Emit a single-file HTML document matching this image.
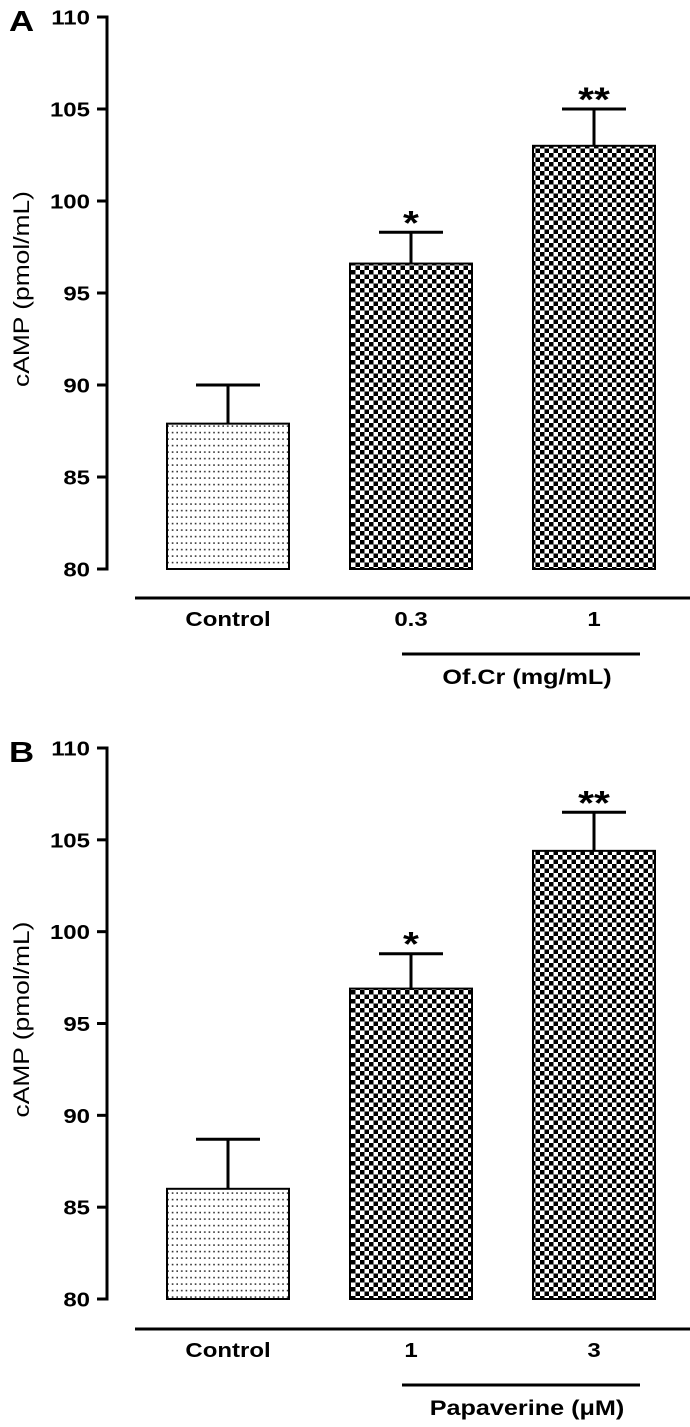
<!DOCTYPE html>
<html><head><meta charset="utf-8">
<style>
html,body{margin:0;padding:0;background:#fff;}
svg{display:block;font-family:"Liberation Sans",Arial,sans-serif;}
</style></head>
<body>
<svg id="chart" width="690" height="1427" viewBox="0 0 690 1427" xmlns="http://www.w3.org/2000/svg">
<defs>
<pattern id="dots" width="4.6" height="6.5" patternUnits="userSpaceOnUse">
<rect width="4.6" height="6.5" fill="#fff"/>
<rect x="1.6" y="2.8" width="1.6" height="1.6" fill="#333"/>
</pattern>
<pattern id="checker" width="9" height="9" patternUnits="userSpaceOnUse">
<rect width="9" height="9" fill="#fff"/>
<rect width="4.5" height="4.5" fill="#000"/>
<rect x="4.5" y="4.5" width="4.5" height="4.5" fill="#000"/>
</pattern>
</defs>
<g id="root"></g>
</svg>
<script>
const categoriesA = ["Control", "0.3", "1"];
const valuesA = [87.9, 96.6, 103.0];
const errorsA = [2.1, 1.7, 2.0];
const sigA = ["", "*", "**"];
const categoriesB = ["Control", "1", "3"];
const valuesB = [86.0, 96.9, 104.4];
const errorsB = [2.7, 1.9, 2.1];
const sigB = ["", "*", "**"];
const yTicks = [80, 85, 90, 95, 100, 105, 110];

const NS = "http://www.w3.org/2000/svg";
const root = document.getElementById("root");
function mk(tag, attrs, parent, text) {
  const e = document.createElementNS(NS, tag);
  for (const k in attrs) e.setAttribute(k, attrs[k]);
  if (text !== undefined) e.textContent = text;
  (parent || root).appendChild(e);
  return e;
}
// text with horizontal stretch
function stxt(x, y, size, anchor, str, parent, extra) {
  const a = Object.assign({x: 0, y: 0, "font-size": size, "font-weight": "bold", "text-anchor": anchor,
    transform: `translate(${x},${y}) scale(1.2,1)`}, extra || {});
  return mk("text", a, parent, str);
}

const barX = [167, 350, 533];
const barW = 122;

function panel(opt) {
  const g = mk("g", {});
  
  
  const y = v => opt.y0 - (v - 80) * (opt.y0 - opt.y1) / 30;
  const L = stxt(9, opt.y1 + 14, 29, "start", opt.letter, g);
  
  
  const ax = mk("line", {x1: 107, x2: 107, y1: opt.y1 - 1.5, y2: opt.y0 + 1.5, stroke: "#000", "stroke-width": 3}, g);
  
  
  yTicks.forEach(t => {
    const tk = mk("line", {x1: 97, x2: 108, y1: y(t), y2: y(t), stroke: "#000", "stroke-width": 3}, g);
    
    
    const tl = stxt(90, y(t) + 7.5, 20, "end", String(t), g);
    
    
  });
  const yl = mk("text", {x: 0, y: 0, "font-size": 22, "text-anchor": "middle",
    transform: `translate(29,${(opt.y0 + opt.y1) / 2 - 4}) rotate(-90) scale(1.2,1)`}, g, "cAMP (pmol/mL)");
  
  
  opt.values.forEach((v, i) => {
    const x = barX[i], cx = x + barW / 2;
    const top = y(v + opt.errors[i]);
    const el = mk("line", {x1: cx, x2: cx, y1: top, y2: y(v), stroke: "#000", "stroke-width": 3}, g);
    
    
    const cap = mk("line", {x1: cx - 32, x2: cx + 32, y1: top, y2: top, stroke: "#000", "stroke-width": 3}, g);
    
    
    const b = mk("rect", {x: x, y: y(v), width: barW, height: y(80) - y(v),
      fill: i === 0 ? "url(#dots)" : "url(#checker)", stroke: "#000", "stroke-width": 2}, g);
    
    
    if (opt.sig[i]) {
      const s = stxt(cx, top + 2, 34, "middle", opt.sig[i], g);
      
      
    }
    const cl = stxt(cx, opt.axisY + 28, 20, "middle", opt.categories[i], g);
    
    
  });
  const xa = mk("line", {x1: 135, x2: 690, y1: opt.axisY, y2: opt.axisY, stroke: "#000", "stroke-width": 3}, g);
  
  
  const br = mk("line", {x1: 402, x2: 640, y1: opt.axisY + 56, y2: opt.axisY + 56, stroke: "#000", "stroke-width": 3}, g);
  
  
  const gl = stxt(527, opt.axisY + 86, 21, "middle", opt.group, g);
  
  
}

panel({name: "panel-a", letter: "A", y0: 569, y1: 17, axisY: 598,
  values: valuesA, errors: errorsA, sig: sigA, categories: categoriesA, group: "Of.Cr (mg/mL)"});
panel({name: "panel-b", letter: "B", y0: 1299, y1: 748, axisY: 1329,
  values: valuesB, errors: errorsB, sig: sigB, categories: categoriesB, group: "Papaverine (\u03BCM)"});
</script>
</body></html>
